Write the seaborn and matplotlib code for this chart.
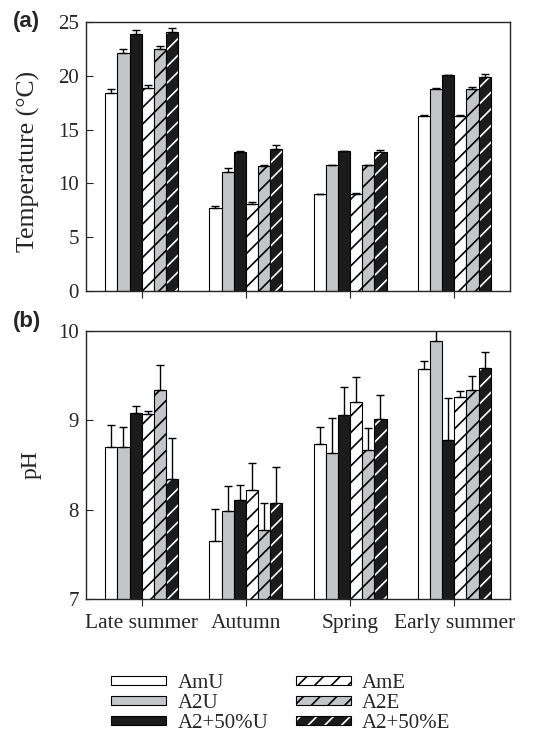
import numpy as np
import pandas as pd
import matplotlib
matplotlib.use("Agg")
import matplotlib.pyplot as plt
from matplotlib.container import BarContainer
import seaborn as sns

seasons = ["Late summer", "Autumn", "Spring", "Early summer"]
treatments = ["AmU", "A2U", "A2+50%U", "AmE", "A2E", "A2+50%E"]

# Temperature (°C) per treatment, one value per season
temp_AmU = [18.4, 7.7, 9.0, 16.3]
temp_A2U = [22.1, 11.1, 11.7, 18.8]
temp_A2_50U = [23.9, 12.9, 13.0, 20.05]
temp_AmE = [18.9, 8.1, 9.0, 16.25]
temp_A2E = [22.5, 11.6, 11.7, 18.8]
temp_A2_50E = [24.1, 13.2, 12.9, 19.85]

temp_err_AmU = [0.4, 0.2, 0.02, 0.06]
temp_err_A2U = [0.4, 0.35, 0.05, 0.1]
temp_err_A2_50U = [0.35, 0.08, 0.03, 0.06]
temp_err_AmE = [0.2, 0.15, 0.07, 0.1]
temp_err_A2E = [0.25, 0.08, 0.05, 0.12]
temp_err_A2_50E = [0.35, 0.4, 0.2, 0.33]

# pH per treatment, one value per season
ph_AmU = [8.70, 7.65, 8.73, 9.58]
ph_A2U = [8.70, 7.98, 8.64, 9.89]
ph_A2_50U = [9.08, 8.11, 9.06, 8.78]
ph_AmE = [9.07, 8.22, 9.20, 9.26]
ph_A2E = [9.34, 7.77, 8.67, 9.34]
ph_A2_50E = [8.34, 8.08, 9.02, 9.59]

ph_err_AmU = [0.25, 0.36, 0.19, 0.09]
ph_err_A2U = [0.22, 0.29, 0.39, 0.15]
ph_err_A2_50U = [0.08, 0.17, 0.31, 0.47]
ph_err_AmE = [0.03, 0.30, 0.29, 0.07]
ph_err_A2E = [0.28, 0.30, 0.24, 0.16]
ph_err_A2_50E = [0.46, 0.40, 0.26, 0.17]

temp_vals = [temp_AmU, temp_A2U, temp_A2_50U, temp_AmE, temp_A2E, temp_A2_50E]
temp_errs = [temp_err_AmU, temp_err_A2U, temp_err_A2_50U, temp_err_AmE, temp_err_A2E, temp_err_A2_50E]
ph_vals = [ph_AmU, ph_A2U, ph_A2_50U, ph_AmE, ph_A2E, ph_A2_50E]
ph_errs = [ph_err_AmU, ph_err_A2U, ph_err_A2_50U, ph_err_AmE, ph_err_A2E, ph_err_A2_50E]

fills = ["white", "#c4c5c7", "#1b1b1b", "white", "#c4c5c7", "#1b1b1b"]
hatches = [None, None, None, "//", "//", "//"]
hatch_cols = ["black", "black", "black", "black", "black", "white"]

sns.set_style("ticks")
plt.rcParams["font.family"] = ["Liberation Serif", "DejaVu Serif"]
plt.rcParams["hatch.linewidth"] = 1.2
plt.rcParams["axes.linewidth"] = 1.0

def long_df(vals):
    rows = []
    for t, v in zip(treatments, vals):
        for s, y in zip(seasons, v):
            rows.append({"season": s, "treatment": t, "value": y})
    return pd.DataFrame(rows)

fig = plt.figure(figsize=(5.35, 7.33), dpi=100)
ax1 = fig.add_axes([0.1607, 0.603, 0.7925, 0.367])
ax2 = fig.add_axes([0.1607, 0.1828, 0.7925, 0.3656])

def draw(ax, vals, errs):
    df = long_df(vals)
    sns.barplot(data=df, x="season", y="value", hue="treatment",
                hue_order=treatments, order=seasons, palette=fills,
                saturation=1, width=0.7, errorbar=None, edgecolor="black",
                linewidth=0.8, legend=False, ax=ax)
    bars = [c for c in ax.containers if isinstance(c, BarContainer)]
    for i, cont in enumerate(bars):
        for p in cont.patches:
            if hatches[i]:
                p.set_hatch(hatches[i])
                p._hatch_color = matplotlib.colors.to_rgba(hatch_cols[i])
        xs = [p.get_x() + p.get_width() / 2 for p in cont.patches]
        ys = [p.get_height() for p in cont.patches]
        e = np.array(errs[i])
        ax.errorbar(xs, ys, yerr=[np.zeros_like(e), e], fmt="none",
                    ecolor="black", elinewidth=1.0, capsize=3, capthick=1.0,
                    zorder=1)
    for s in ["top", "right", "left", "bottom"]:
        ax.spines[s].set_visible(True)
        ax.spines[s].set_linewidth(1.0)
    ax.set_xlabel("")
    ax.tick_params(axis="y", direction="in", length=5, width=0.8,
                   labelsize=15, pad=5)
    ax.tick_params(axis="x", direction="out", length=5, width=0.8,
                   labelsize=15.5, pad=6)
    return bars

draw(ax1, temp_vals, temp_errs)
ax1.set_ylim(0, 25)
ax1.set_yticks([0, 5, 10, 15, 20, 25])
ax1.set_xticklabels([])
ax1.set_ylabel("Temperature (°C)", fontsize=18.5)
ax1.yaxis.set_label_coords(-0.108, 0.48)

bars2 = draw(ax2, ph_vals, ph_errs)
ax2.set_ylim(7, 10)
ax2.set_yticks([7, 8, 9, 10])
ax2.set_ylabel("pH", fontsize=17)
ax2.yaxis.set_label_coords(-0.104, 0.5)

fig.text(13 / 535, 1 - 22 / 733, "(a)", fontsize=16, fontweight="bold",
         family="Liberation Sans", ha="left", va="center")
fig.text(13 / 535, 1 - 322 / 733, "(b)", fontsize=16, fontweight="bold",
         family="Liberation Sans", ha="left", va="center")

fig.legend(bars2, treatments, ncol=2, loc="upper left",
           bbox_to_anchor=(111 / 535, 1 - 674 / 733), frameon=False,
           fontsize=15, handlelength=2.65, handleheight=0.3,
           handletextpad=0.55, columnspacing=1.3, labelspacing=0.05,
           borderpad=0, borderaxespad=0)

fig.savefig("out.png", dpi=100)
